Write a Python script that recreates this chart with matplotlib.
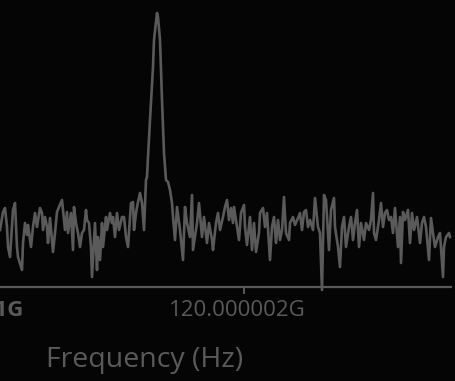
import matplotlib
matplotlib.use("Agg")
import matplotlib.pyplot as plt
from matplotlib.transforms import ScaledTranslation
import numpy as np

# spectrum trace: frequency bin index and level above the floor
bins = [0, 3, 5, 7, 8, 10, 13, 15, 17, 18, 22, 23, 25, 27, 28, 31, 33, 35, 37, 40,
        42, 43, 45, 47, 48, 50, 53, 55, 57, 59, 62, 63, 65, 67, 68, 71, 73, 74, 76, 78,
        80, 82, 84, 86, 87, 89, 91, 92, 94, 95, 97, 98, 100, 102, 103, 106, 107, 110, 112, 113,
        115, 117, 119, 122, 124, 126, 128, 131, 133, 134, 136, 138, 140, 142, 144, 146, 147, 148, 150, 153,
        154, 157, 158, 160, 162, 164, 166, 168, 170, 172, 173, 175, 177, 180, 183, 185, 187, 190, 192, 193,
        197, 199, 202, 204, 207, 209, 212, 213, 216, 218, 220, 223, 225, 227, 229, 231, 233, 234, 236, 239,
        241, 244, 245, 247, 250, 252, 254, 256, 259, 260, 263, 265, 267, 270, 272, 274, 276, 278, 280, 282,
        284, 286, 289, 290, 293, 295, 298, 300, 302, 304, 306, 308, 310, 313, 315, 318, 320, 322, 324, 326,
        329, 331, 334, 335, 338, 340, 342, 344, 346, 349, 351, 353, 355, 357, 359, 361, 364, 366, 369, 371,
        373, 374, 376, 379, 381, 383, 385, 387, 389, 391, 393, 395, 398, 400, 401, 403, 405, 408, 410, 412,
        414, 417, 420, 422, 424, 426, 429, 431, 433, 435, 438, 440, 443, 444, 446, 449, 450]
level = [57, 75, 79, 60, 40, 30, 77, 84, 40, 30, 17, 44, 64, 52, 62, 40, 60, 74, 60, 79,
         74, 57, 70, 60, 44, 69, 35, 54, 75, 80, 87, 77, 57, 75, 54, 74, 37, 80, 64, 54,
         40, 54, 57, 77, 67, 64, 40, 10, 47, 64, 17, 50, 27, 64, 40, 70, 57, 74, 64, 70,
         50, 74, 57, 70, 70, 50, 40, 84, 85, 57, 74, 85, 94, 84, 57, 107, 110, 130, 167, 220,
         247, 274, 270, 247, 187, 134, 107, 105, 97, 84, 70, 47, 80, 57, 27, 80, 64, 50, 92, 37,
         64, 84, 50, 70, 44, 64, 47, 37, 64, 74, 57, 70, 80, 87, 67, 79, 64, 80, 67, 47,
         74, 82, 60, 42, 70, 37, 64, 35, 54, 74, 79, 60, 74, 27, 60, 70, 44, 67, 47, 57,
         90, 54, 47, 64, 70, 62, 69, 74, 57, 75, 77, 60, 67, 57, 89, 60, 54, -3, 92, 87,
         37, 77, 89, 60, 40, 20, 60, 70, 40, 60, 70, 47, 64, 77, 40, 64, 47, 64, 57, 67,
         94, 54, 47, 67, 84, 60, 74, 77, 67, 70, 54, 79, 40, 70, 24, 75, 67, 77, 44, 74,
         57, 70, 44, 64, 70, 60, 27, 69, 54, 40, 50, 54, 10, 40, 50, 54, 50]

f_start = 120000001132.0   # Hz, first bin
df = 1000.0 / 281.0        # Hz per bin
ticks = [120000001000.0, 120000002000.0]
tick_labels = ["120.000001G", "120.000002G"]

bg = "#050505"
fg = "#5a5a5a"

freq = f_start + np.array(bins) * df

fig = plt.figure(figsize=(4.55, 3.81), dpi=100, facecolor=bg)
left = -40 / 455
ax = fig.add_axes([left, 94 / 381, (451 + 40) / 455, 287 / 381], facecolor=bg)
ax.plot(freq, level, color=fg, lw=1.9, clip_on=False, solid_joinstyle="round")

for s in ["top", "right", "left"]:
    ax.spines[s].set_visible(False)
ax.spines["bottom"].set_color(fg)
ax.spines["bottom"].set_linewidth(1.6)
ax.set_yticks([])
ax.set_xticks(ticks)
ax.set_xticklabels(tick_labels, family="Open Sans", fontsize=16, color=fg)
ax.tick_params(axis="x", colors=fg, length=5, width=1.4, pad=4)
ax.get_xticklabels()[0].set_fontweight("bold")
shift = ScaledTranslation(-7 / 100, 0, fig.dpi_scale_trans)
for lab in ax.get_xticklabels():
    lab.set_transform(lab.get_transform() + shift)

# limits after the ticks so they are not widened
ax.set_xlim(f_start - 40 * df, f_start + 451 * df)
ax.set_ylim(0, 287)

fig.text(145 / 455, 1 - 367 / 381, "Frequency (Hz)", family="Open Sans",
         fontsize=20.5, color=fg, ha="center", va="baseline")

fig.savefig("out.png", dpi=100, facecolor=bg)
